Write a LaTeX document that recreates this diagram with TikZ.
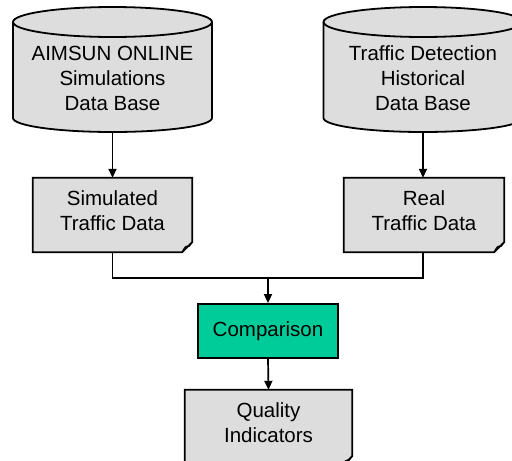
\documentclass[tikz,border=0pt]{standalone}
\usepackage{fontspec}
\setmainfont{Liberation Sans}
\usetikzlibrary{arrows.meta,backgrounds}
\definecolor{boxgray}{HTML}{DDDDDD}
\definecolor{cmpgreen}{HTML}{00CC99}
\begin{document}
\begin{tikzpicture}[x=1pt,y=-1pt,
  lbl/.style={align=center,font=\fontsize{20.5}{25}\selectfont,inner sep=0pt},
  shapeline/.style={draw=black,line width=1.8pt,line join=miter},
  docbox/.style={lbl,minimum width=#1,minimum height=74pt,text depth=8pt},
  arr/.style={line width=1.7pt,-{Triangle[length=9pt,width=8pt]}},
  conn/.style={line width=1.7pt}]
\useasboundingbox (0,0) rectangle (512,461);
\clip (0,0) rectangle (512,461);
% cylinders
\foreach \cx/\nm in {112.5/dbA,423/dbB}{
  \path[shapeline,fill=boxgray] (\cx-99.5,22) -- (\cx-99.5,118)
     arc[start angle=180,end angle=0,x radius=99.5,y radius=14]
     -- (\cx+99.5,22)
     arc[start angle=360,end angle=180,x radius=99.5,y radius=15] -- cycle;
  \draw[shapeline] (\cx-99.5,22) arc[start angle=180,end angle=0,x radius=99.5,y radius=15];
}
\coordinate (botA) at (112.5,132);
\coordinate (botB) at (423,132);
\node[lbl] (dbA) at (112.5,78) {AIMSUN ONLINE\\Simulations\\Data Base};
\node[lbl] (dbB) at (423,78) {Traffic Detection\\Historical\\Data Base};
% document boxes
\node[docbox=159pt] (sim) at (112.5,215) {Simulated\\Traffic Data};
\node[docbox=160pt] (real) at (424,215) {Real\\Traffic Data};
\node[lbl,minimum width=140pt,minimum height=54pt,shapeline,fill=cmpgreen] (cmp) at (268,331) {Comparison};
\node[lbl,minimum width=167pt,minimum height=76pt,text depth=10pt] (qual) at (268.5,428) {Quality\\Indicators};
\begin{scope}[on background layer]
\foreach \n in {sim,real,qual}{
  \path[shapeline,fill=boxgray] (\n.north west) -- (\n.north east) -- ([yshift=10pt]\n.south east)
     -- ([xshift=-10pt]\n.south east) -- (\n.south west) -- cycle;
  \draw[line width=1.2pt] ([xshift=-10pt]\n.south east) .. controls ([xshift=-7pt,yshift=6pt]\n.south east) .. ([xshift=-3pt,yshift=6pt]\n.south east) -- ([yshift=10pt]\n.south east);
}
\end{scope}
\coordinate (join) at (268,278);
\draw[arr] (botA) -- (sim.north);
\draw[arr] (botB) -- (real.north -| botB);
\draw[conn] (sim.south) |- (join);
\draw[conn] (real.south -| botB) |- (join);
\draw[arr] (join) -- (cmp.north);
\draw[arr] (cmp.south) -- (qual.north);
\end{tikzpicture}
\end{document}
